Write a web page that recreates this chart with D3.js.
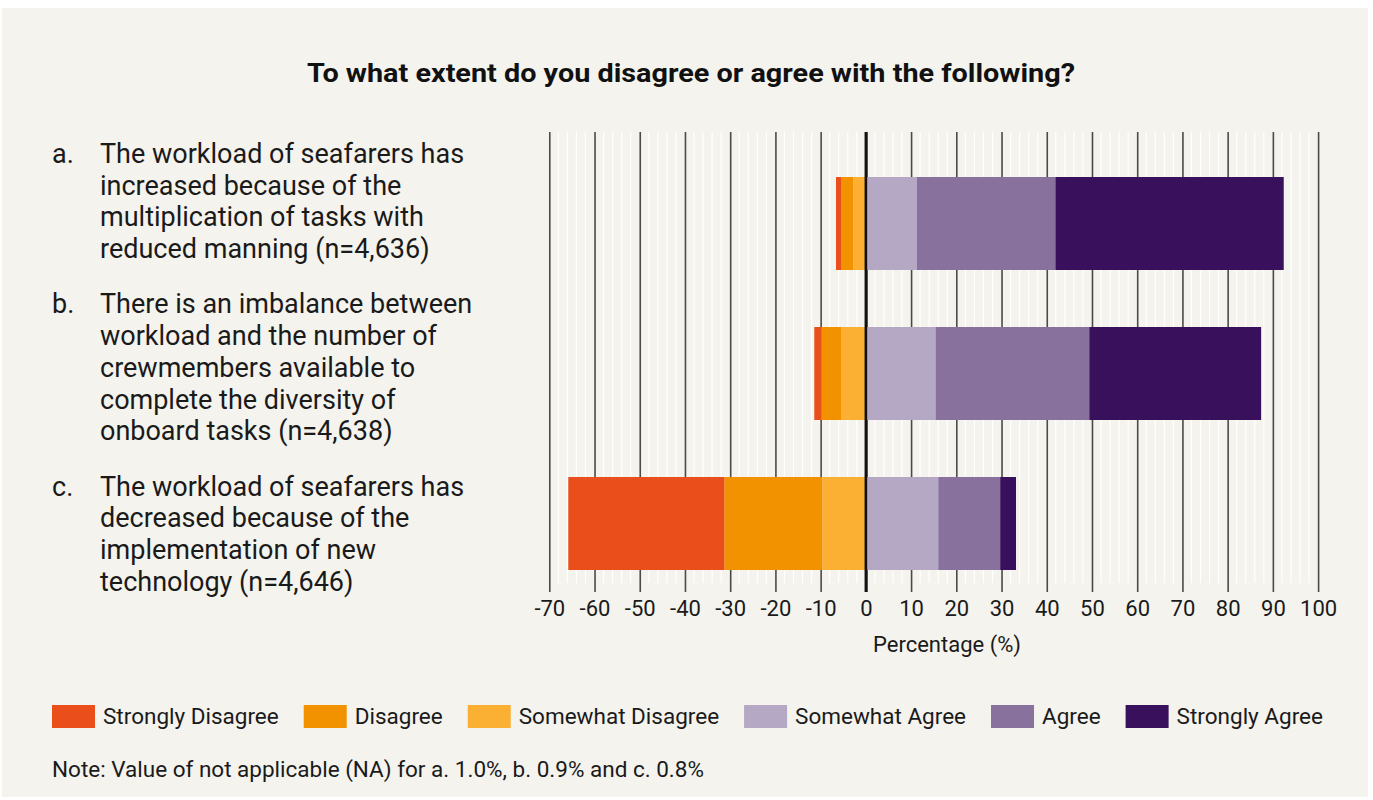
<!DOCTYPE html>
<html>
<head>
<meta charset="utf-8">
<script src="https://cdn.jsdelivr.net/npm/d3@7"></script>
<style>
  body { margin: 0; background: #ffffff; }
  svg { display: block; font-family: Roboto, "Noto Sans", sans-serif; }
</style>
</head>
<body>
<div id="chart"></div>
<script>
// question ids and wrapped labels
const questions = ['a', 'b', 'c'];
const questionLines = [
  ['The workload of seafarers has', 'increased because of the', 'multiplication of tasks with', 'reduced manning (n=4,636)'],
  ['There is an imbalance between', 'workload and the number of', 'crewmembers available to', 'complete the diversity of', 'onboard tasks (n=4,638)'],
  ['The workload of seafarers has', 'decreased because of the', 'implementation of new', 'technology (n=4,646)']
];

// answer categories (left side = disagree, right side = agree)
const categories = ['Strongly Disagree', 'Disagree', 'Somewhat Disagree', 'Somewhat Agree', 'Agree', 'Strongly Agree'];
const colors = ['#E94E1B', '#F39200', '#FBB034', '#B5A8C5', '#88719D', '#39105C'];

// percentages per question (a, b, c)
const stronglyDisagree = [1.1, 1.5, 34.5];
const disagree = [2.7, 4.4, 21.7];
const somewhatDisagree = [2.8, 5.5, 9.6];
const somewhatAgree = [11.3, 15.4, 16.0];
const agree = [30.6, 34.0, 13.7];
const stronglyAgree = [50.5, 38.0, 3.5];

const xTicks = d3.range(-70, 101, 10);
const title = 'To what extent do you disagree or agree with the following?';
const xLabel = 'Percentage (%)';
const note = 'Note: Value of not applicable (NA) for a. 1.0%, b. 0.9% and c. 0.8%';

const W = 1373, H = 800;

const svg = d3.select('#chart')
  .append('svg')
  .attr('width', W)
  .attr('height', H);

svg.append('rect')
  .attr('x', 2).attr('y', 8)
  .attr('width', 1366).attr('height', 789)
  .attr('fill', '#F4F3EE');

svg.append('text')
  .attr('x', 691).attr('y', 82)
  .attr('text-anchor', 'middle')
  .attr('textLength', 768)
  .attr('lengthAdjust', 'spacingAndGlyphs')
  .style('font-size', '25px')
  .style('font-weight', 700)
  .attr('fill', '#111')
  .text(title);

// scales
const gridTop = 132, gridBottom = 592;
const x = d3.scaleLinear().domain([-70, 100]).range([549.3, 1318.1]);
const y = d3.scaleBand()
  .domain(questions)
  .range([148.5, 598.5])
  .paddingInner(0.38)
  .paddingOuter(0.19);

// minor white grid lines every 2
const minor = d3.range(-68, 100, 2).filter(v => v % 10 !== 0);
svg.append('g')
  .selectAll('line')
  .data(minor)
  .enter()
  .append('line')
  .attr('x1', d => x(d)).attr('x2', d => x(d))
  .attr('y1', gridTop).attr('y2', 583)
  .attr('stroke', '#ffffff')
  .attr('stroke-width', 1.2);

// axis with major grid lines
const axis = svg.append('g')
  .attr('transform', 'translate(0,' + gridBottom + ')')
  .call(d3.axisBottom(x)
    .tickValues(xTicks)
    .tickSizeInner(-(gridBottom - gridTop))
    .tickSizeOuter(0)
    .tickPadding(8)
    .tickFormat(d => String(d)));
axis.select('.domain').remove();
axis.selectAll('.tick line')
  .attr('stroke', d => d === 0 ? '#111' : '#4a4a48')
  .attr('stroke-width', d => d === 0 ? 2.6 : 1.6);
axis.selectAll('.tick text')
  .style('font-size', '22px')
  .style('font-family', 'Roboto, sans-serif')
  .attr('fill', '#1a1a1a');

svg.append('text')
  .attr('x', 947).attr('y', 652)
  .attr('text-anchor', 'middle')
  .style('font-size', '22px')
  .attr('fill', '#1a1a1a')
  .text(xLabel);

// build diverging segments
const series = [stronglyDisagree, disagree, somewhatDisagree, somewhatAgree, agree, stronglyAgree];
const segments = [];
questions.forEach((q, i) => {
  // negatives stack outward from zero: somewhat -> disagree -> strongly
  let left = 0;
  [2, 1, 0].forEach(k => {
    const v = series[k][i];
    segments.push({ q: q, k: k, x0: left - v, x1: left });
    left -= v;
  });
  let right = 0;
  [3, 4, 5].forEach(k => {
    const v = series[k][i];
    segments.push({ q: q, k: k, x0: right, x1: right + v });
    right += v;
  });
});

svg.append('g')
  .selectAll('rect')
  .data(segments)
  .enter()
  .append('rect')
  .attr('x', d => x(d.x0))
  .attr('y', d => y(d.q))
  .attr('width', d => x(d.x1) - x(d.x0))
  .attr('height', y.bandwidth())
  .attr('fill', d => colors[d.k]);

// zero line on top of bars
svg.append('line')
  .attr('x1', x(0)).attr('x2', x(0))
  .attr('y1', gridTop).attr('y2', gridBottom)
  .attr('stroke', '#111')
  .attr('stroke-width', 2.6);

// question labels on the left
const lineH = 31.7;
let baseY = 163;
questions.forEach((q, i) => {
  const g = svg.append('g').style('font-size', '27px').attr('fill', '#1a1a1a');
  g.append('text').attr('x', 52).attr('y', baseY).text(q + '.');
  questionLines[i].forEach((line, j) => {
    g.append('text').attr('x', 100).attr('y', baseY + j * lineH).text(line);
  });
  baseY += questionLines[i].length * lineH + 23.6;
});

// legend
let lx = 52;
categories.forEach((c, i) => {
  svg.append('rect')
    .attr('x', lx).attr('y', 705)
    .attr('width', 43).attr('height', 23)
    .attr('fill', colors[i]);
  const t = svg.append('text')
    .attr('x', lx + 51).attr('y', 724)
    .style('font-size', '22.5px')
    .attr('fill', '#1a1a1a')
    .text(c);
  lx += 51 + t.node().getComputedTextLength() + 25;
});

svg.append('text')
  .attr('x', 52).attr('y', 777)
  .style('font-size', '22.5px')
  .attr('fill', '#1a1a1a')
  .text(note);
</script>
</body>
</html>
